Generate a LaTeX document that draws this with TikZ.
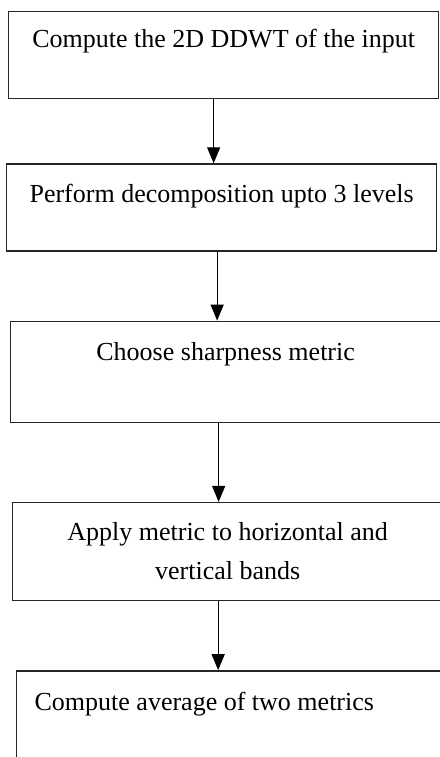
\documentclass[tikz,border=0pt]{standalone}
\usepackage{fontspec}
\setmainfont{Liberation Serif}
\usetikzlibrary{positioning, arrows.meta}
\tikzstyle{stepbox} = [rectangle,
draw=black!85,
line width=1.3pt,
minimum width=430pt,
inner xsep=0pt, inner ysep=0pt,
font=\fontsize{26pt}{39pt}\selectfont]
\tikzstyle{arrow} = [-{Triangle[width=13pt,length=16pt]}, line width=1.2pt]

\begin{document}
\begin{tikzpicture}[x=1pt, y=1pt, node distance=64pt]
      \useasboundingbox (0,0) rectangle (439,-757);

      \node[stepbox, anchor=north west, text height=36pt, text depth=51pt] (b1) at (8,-11)
            {Compute the 2D DDWT of the input};
      \node[stepbox, below=64pt of b1, xshift=-2pt, text height=39pt, text depth=48pt] (b2)
            {Perform decomposition upto 3 levels};
      \node[stepbox, below=69pt of b2, xshift=4pt, text height=39pt, text depth=62pt] (b3)
            {Choose sharpness metric};
      \node[stepbox, below=79pt of b3, xshift=2pt, minimum height=98pt, align=center] (b4)
            {Apply metric to horizontal and\\vertical bands};
      \node[stepbox, below=69pt of b4, xshift=4pt, text height=40pt, text depth=62pt,
            inner xsep=18pt, text width=394pt, align=flush left] (b5)
            {Compute average of two metrics};

      \draw [arrow] ([xshift=-10pt]b1.south)  -- ([xshift=-10pt]b1.south |- b2.north);
      \draw [arrow] ([xshift=-4.5pt]b2.south) -- ([xshift=-4.5pt]b2.south |- b3.north);
      \draw [arrow] ([xshift=-7pt]b3.south)   -- ([xshift=-7pt]b3.south |- b4.north);
      \draw [arrow] ([xshift=-9.5pt]b4.south) -- ([xshift=-9.5pt]b4.south |- b5.north);
    \end{tikzpicture}
\end{document}
